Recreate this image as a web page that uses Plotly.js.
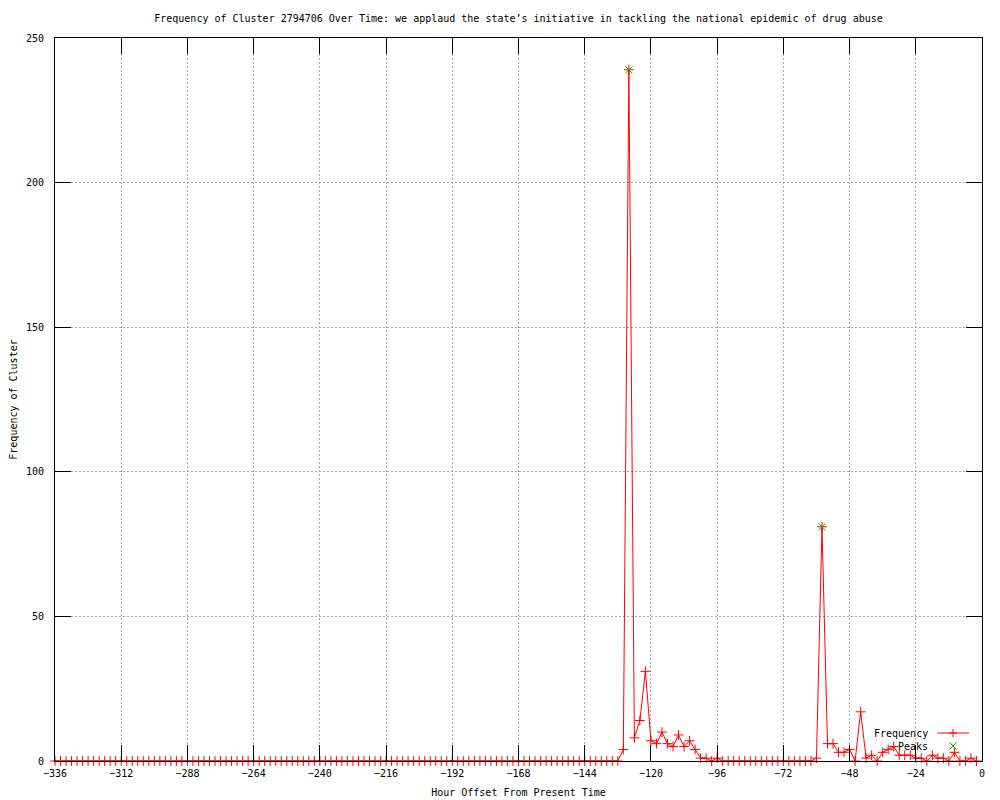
<!DOCTYPE html>
<html><head><meta charset="utf-8">
<script src="https://cdn.plot.ly/plotly-3.0.1.min.js"></script>
<style>body{margin:0;background:#fff}#chart{width:1000px;height:800px}</style>
</head><body><div id="chart"></div>
<script>
const hours = [
  -336,-334,-332,-330,-328,-326,-324,-322,-320,-318,-316,-314,
  -312,-310,-308,-306,-304,-302,-300,-298,-296,-294,-292,-290,
  -288,-286,-284,-282,-280,-278,-276,-274,-272,-270,-268,-266,
  -264,-262,-260,-258,-256,-254,-252,-250,-248,-246,-244,-242,
  -240,-238,-236,-234,-232,-230,-228,-226,-224,-222,-220,-218,
  -216,-214,-212,-210,-208,-206,-204,-202,-200,-198,-196,-194,
  -192,-190,-188,-186,-184,-182,-180,-178,-176,-174,-172,-170,
  -168,-166,-164,-162,-160,-158,-156,-154,-152,-150,-148,-146,
  -144,-142,-140,-138,-136,-134,-132,-130,-128,-126,-124,-122,
  -120,-118,-116,-114,-112,-110,-108,-106,-104,-102,-100,-98,
  -96,-94,-92,-90,-88,-86,-84,-82,-80,-78,-76,-74,
  -72,-70,-68,-66,-64,-62,-60,-58,-56,-54,-52,-50,
  -48,-46,-44,-42,-40,-38,-36,-34,-32,-30,-28,-26,
  -24,-22,-20,-18,-16,-14,-12,-10,-8,-6,-4,-2
];
const frequency = [
  0,0,0,0,0,0,0,0,0,0,0,0,
  0,0,0,0,0,0,0,0,0,0,0,0,
  0,0,0,0,0,0,0,0,0,0,0,0,
  0,0,0,0,0,0,0,0,0,0,0,0,
  0,0,0,0,0,0,0,0,0,0,0,0,
  0,0,0,0,0,0,0,0,0,0,0,0,
  0,0,0,0,0,0,0,0,0,0,0,0,
  0,0,0,0,0,0,0,0,0,0,0,0,
  0,0,0,0,0,0,0,4,239,8,14,31,
  7,6,10,6,5,9,5,7,4,1,1,0,
  1,0,0,0,0,0,0,0,0,0,0,0,
  0,0,0,0,0,0,1,81,6,6,3,3,
  4,0,17,1,2,0,3,4,5,2,2,2,
  1,1,0,2,1,1,0,3,0,0,1,0
];
const peakHours = [-128, -58];
const peakValues = [239, 81];
const xTickVals = [-336,-312,-288,-264,-240,-216,-192,-168,-144,-120,-96,-72,-48,-24,0];
const yTickVals = [0,50,100,150,200,250];
const titleText = "Frequency of Cluster 2794706 Over Time: we applaud the state’s initiative in tackling the national epidemic of drug abuse";
const xTitle = "Hour Offset From Present Time";
const yTitle = "Frequency of Cluster";
const seriesNames = ["Frequency", "Peaks"];

const FONT = {family: "DejaVu Sans Mono, Liberation Mono, monospace", size: 10, color: "#000"};
const RED = "#ff0000", GREEN = "#00b000";

const traces = [
  {x: hours, y: frequency, name: seriesNames[0], type: "scatter", mode: "lines+markers",
   line: {color: RED, width: 1},
   marker: {symbol: "cross-thin", size: 7, color: RED, line: {color: RED, width: 1}},
   cliponaxis: false},
  {x: peakHours, y: peakValues, name: seriesNames[1], type: "scatter", mode: "markers",
   marker: {symbol: "x-thin", size: 7, color: GREEN, line: {color: GREEN, width: 1}},
   cliponaxis: false}
];

const L = 55, R = 982, T = 38, B = 761;
const px = v => (v - L) / (R - L);
const py = v => (B - v) / (B - T);

const layout = {
  width: 1000, height: 800,
  margin: {l: L, r: 1000 - R, t: T, b: 800 - B, pad: 0},
  paper_bgcolor: "#fff", plot_bgcolor: "#fff",
  font: FONT,
  showlegend: false,
  title: {text: titleText, font: FONT, x: 0.5, xref: "paper", xanchor: "center",
          y: 1 - 18/800, yref: "container", yanchor: "middle"},
  xaxis: {range: [-336, 0], tickvals: xTickVals, ticktext: xTickVals.map(v => v < 0 ? "\u2212" + Math.abs(v) : String(v)),
          ticks: "inside", ticklen: 16, tickcolor: "#000", tickwidth: 1,
          showline: true, linecolor: "#000", linewidth: 1, mirror: "ticks",
          showgrid: true, gridcolor: "#a8a8a8", griddash: "2px,2px", gridwidth: 1,
          zeroline: false, tickfont: FONT, fixedrange: true, ticklabelstandoff: 3,
          title: {text: xTitle, font: FONT, standoff: 10}},
  yaxis: {range: [0, 250], tickvals: yTickVals,
          ticks: "inside", ticklen: 16, tickcolor: "#000", tickwidth: 1,
          showline: true, linecolor: "#000", linewidth: 1, mirror: "ticks",
          showgrid: true, gridcolor: "#a8a8a8", griddash: "2px,2px", gridwidth: 1,
          zeroline: false, tickfont: FONT, fixedrange: true, ticklabelstandoff: 8,
          title: {text: yTitle, font: FONT, standoff: 6}},
  annotations: [
    {text: seriesNames[0], xref: "paper", yref: "paper", x: px(930), y: py(733),
     xanchor: "right", yanchor: "middle", showarrow: false, font: FONT},
    {text: seriesNames[1], xref: "paper", yref: "paper", x: px(930), y: py(746),
     xanchor: "right", yanchor: "middle", showarrow: false, font: FONT}
  ],
  shapes: [
    {type: "line", xref: "paper", yref: "paper", x0: px(937), x1: px(969), y0: py(733), y1: py(733),
     line: {color: RED, width: 1}},
    {type: "path", xref: "paper", yref: "paper", xsizemode: "pixel", ysizemode: "pixel",
     xanchor: px(953), yanchor: py(733), path: "M-4,0 L4,0 M0,-4 L0,4", line: {color: RED, width: 1}},
    {type: "path", xref: "paper", yref: "paper", xsizemode: "pixel", ysizemode: "pixel",
     xanchor: px(953), yanchor: py(746), path: "M-3.5,-3.5 L3.5,3.5 M-3.5,3.5 L3.5,-3.5", line: {color: GREEN, width: 1}}
  ]
};

Plotly.newPlot("chart", traces, layout, {staticPlot: true, displayModeBar: false});
</script>
</body></html>
